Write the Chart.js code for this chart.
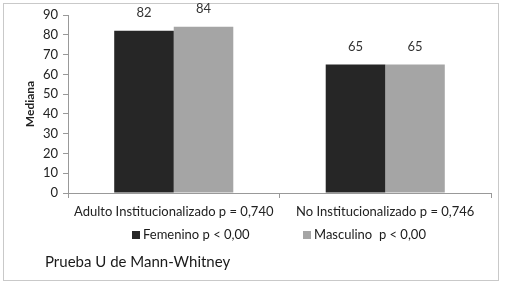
<!DOCTYPE html>
<html><head><meta charset="utf-8">
<script src="https://cdn.jsdelivr.net/npm/chart.js@4"></script>
<style>html,body{margin:0;padding:0;background:#fff}#w{width:511px;height:286px}</style>
</head><body><div id="w"><canvas id="c" width="511" height="286"></canvas></div>
<script>
const categories = ["Adulto Institucionalizado p = 0,740", "No Institucionalizado p = 0,746"];
const femenino = [82, 65];
const masculino = [84, 65];
const seriesNames = ["Femenino p < 0,00", "Masculino  p < 0,00"];
const yTicks = [0, 10, 20, 30, 40, 50, 60, 70, 80, 90];
const footnote = "Prueba U de Mann-Whitney";
const FONT = "Lato, 'Open Sans', sans-serif";

const extras = {
  id: 'extras',
  beforeDraw(chart) {
    const ctx = chart.ctx;
    ctx.save();
    ctx.fillStyle = '#fff';
    ctx.fillRect(0, 0, chart.width, chart.height);
    ctx.strokeStyle = '#c9c9c9';
    ctx.lineWidth = 1;
    ctx.strokeRect(3.5, 3.5, 495, 277);
    ctx.restore();
  },
  afterDatasetsDraw(chart) {
    const ctx = chart.ctx;
    ctx.save();
    ctx.font = "13px " + FONT;
    ctx.fillStyle = '#333';
    ctx.textAlign = 'center';
    ctx.textBaseline = 'middle';
    chart.data.datasets.forEach((ds, i) => {
      chart.getDatasetMeta(i).data.forEach((bar, j) => {
        ctx.fillText(String(ds.data[j]), bar.x, bar.y - 18);
      });
    });
    // legend
    ctx.font = "13px " + FONT;
    ctx.textAlign = 'left';
    const items = [{x: 132, c: chart.data.datasets[0].backgroundColor}, {x: 303, c: chart.data.datasets[1].backgroundColor}];
    items.forEach((it, i) => {
      ctx.fillStyle = it.c;
      ctx.fillRect(it.x, 231, 8, 8);
      ctx.fillStyle = '#1a1a1a';
      ctx.fillText(chart.data.datasets[i].label, it.x + 11, 235);
    });
    ctx.font = "15px " + FONT;
    ctx.fillText(footnote, 45, 262);
    ctx.restore();
  }
};

new Chart(document.getElementById('c'), {
  type: 'bar',
  data: {
    labels: categories,
    datasets: [
      {label: seriesNames[0], data: femenino, backgroundColor: '#262626', barPercentage: 1, categoryPercentage: 0.563},
      {label: seriesNames[1], data: masculino, backgroundColor: '#a5a5a5', barPercentage: 1, categoryPercentage: 0.563}
    ]
  },
  options: {
    responsive: false,
    animation: false,
    devicePixelRatio: 1,
    layout: {padding: {left: 23, right: 20, top: 15, bottom: 60}},
    plugins: {legend: {display: false}, tooltip: {enabled: false}},
    scales: {
      x: {
        grid: {drawOnChartArea: false, drawTicks: true, tickLength: 5, color: '#999', offset: true},
        border: {color: '#999'},
        ticks: {font: {family: FONT, size: 13}, color: '#222', padding: 6, maxRotation: 0},
        afterFit(s) { s.height = 33; }
      },
      y: {
        min: 0, max: 90,
        afterBuildTicks(s) { s.ticks = yTicks.map(v => ({value: v})); },
        grid: {drawOnChartArea: false, drawTicks: true, tickLength: 5, color: '#999'},
        border: {color: '#999'},
        ticks: {font: {family: FONT, size: 13}, color: '#222', padding: 5},
        title: {display: true, text: 'Mediana', font: {family: FONT, size: 12, weight: 'bold'}, color: '#222', padding: 0},
        afterFit(s) { s.width = 45; }
      }
    }
  },
  plugins: [extras]
});
</script></body></html>
